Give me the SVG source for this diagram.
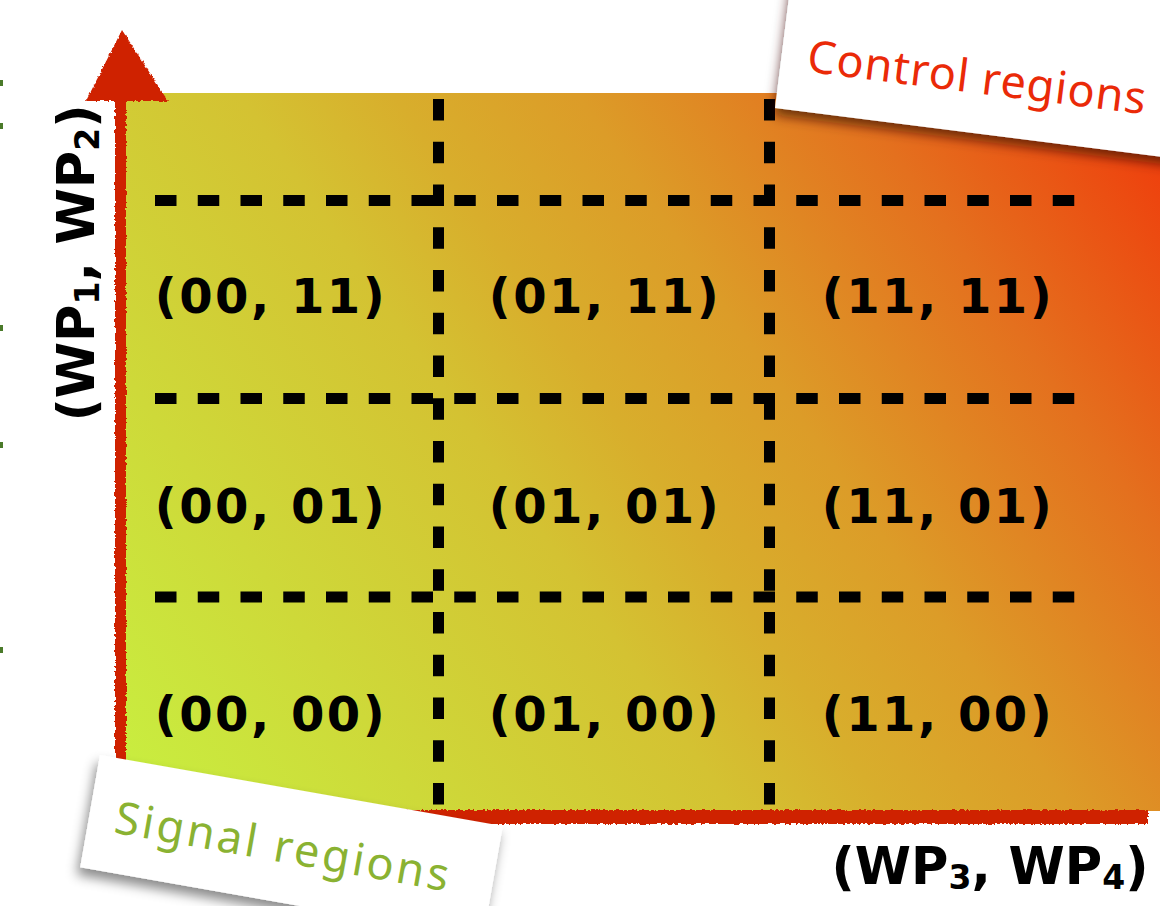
<svg xmlns="http://www.w3.org/2000/svg" width="1160" height="906" viewBox="0 0 1160 906">
  <defs>
    <linearGradient id="bg" gradientUnits="userSpaceOnUse" x1="120" y1="811" x2="1160" y2="93">
      <stop offset="0" stop-color="#c8f040"/>
      <stop offset="0.4" stop-color="#d4c232"/>
      <stop offset="0.5" stop-color="#d8ae2c"/>
      <stop offset="0.62" stop-color="#dc9c28"/>
      <stop offset="0.8" stop-color="#e4701e"/>
      <stop offset="1" stop-color="#f0380a"/>
    </linearGradient>
    <filter id="rough" x="-5%" y="-5%" width="110%" height="110%">
      <feTurbulence type="fractalNoise" baseFrequency="0.35" numOctaves="2" seed="3"/>
      <feDisplacementMap in="SourceGraphic" scale="4" xChannelSelector="R" yChannelSelector="G"/>
    </filter>
    <filter id="shadowC" x="-10%" y="-30%" width="120%" height="160%">
      <feDropShadow dx="0" dy="7" stdDeviation="6" flood-color="#3a1500" flood-opacity="0.7"/>
    </filter>
    <filter id="shadowS" x="-10%" y="-30%" width="120%" height="160%">
      <feDropShadow dx="-2" dy="8" stdDeviation="6" flood-color="#000" flood-opacity="0.45"/>
    </filter>
  </defs>
  <style>
    .cell { font-family: "DejaVu Sans", "Liberation Sans", sans-serif; font-weight: bold; font-size: 48px; letter-spacing: 2.5px; fill: #000; text-anchor: middle; }
    .axis { font-family: "DejaVu Sans", "Liberation Sans", sans-serif; font-weight: bold; font-size: 51px; fill: #000; text-anchor: middle; }
    .dash { stroke: #000; stroke-width: 11; stroke-dasharray: 21.5 21.25; fill: none; }
    .red { fill: #cf2000; }
    .note { font-family: "Noto Sans", "DejaVu Sans", sans-serif; font-size: 45px; letter-spacing: 3px; }
  </style>

  <rect width="1160" height="906" fill="#fff"/>

  <!-- left-edge marks -->
  <g fill="#4a7a2a">
    <rect x="0" y="80" width="3" height="6"/>
    <rect x="0" y="123" width="3" height="6"/>
    <rect x="0" y="325" width="3" height="6"/>
    <rect x="0" y="442" width="3" height="6"/>
    <rect x="0" y="647" width="3" height="6"/>
  </g>

  <!-- plot area -->
  <g id="plot">
    <rect x="121" y="93" width="1039" height="718" fill="url(#bg)"/>
  </g>

  <!-- axes -->
  <g id="axes" filter="url(#rough)">
    <rect class="red" x="115" y="97" width="11" height="716"/>
    <rect class="red" x="118" y="810" width="1030" height="14"/>
    <polygon class="red" points="122,30 168,101 86,101"/>
  </g>

  <!-- grid connectors -->
  <g id="connectors">
    <line class="dash" x1="155" y1="200.5" x2="1075" y2="200.5"/>
    <line class="dash" x1="155" y1="398.5" x2="1075" y2="398.5"/>
    <line class="dash" x1="155" y1="597" x2="1075" y2="597"/>
    <line class="dash" x1="438.5" y1="99" x2="438.5" y2="805"/>
    <line class="dash" x1="769.5" y1="99" x2="769.5" y2="805"/>
  </g>

  <!-- cells -->
  <g id="cell-00-11"><text class="cell" x="271" y="313">(00, 11)</text></g>
  <g id="cell-01-11"><text class="cell" x="605" y="313">(01, 11)</text></g>
  <g id="cell-11-11"><text class="cell" x="938" y="313">(11, 11)</text></g>
  <g id="cell-00-01"><text class="cell" x="271" y="523">(00, 01)</text></g>
  <g id="cell-01-01"><text class="cell" x="605" y="523">(01, 01)</text></g>
  <g id="cell-11-01"><text class="cell" x="938" y="523">(11, 01)</text></g>
  <g id="cell-00-00"><text class="cell" x="271" y="731">(00, 00)</text></g>
  <g id="cell-01-00"><text class="cell" x="605" y="731">(01, 00)</text></g>
  <g id="cell-11-00"><text class="cell" x="938" y="731">(11, 00)</text></g>

  <!-- axis labels -->
  <g id="ylabel">
    <text class="axis" transform="translate(94,263) rotate(-90)">(WP<tspan font-size="33" dy="5">1</tspan><tspan dy="-5">, WP</tspan><tspan font-size="33" dy="5">2</tspan><tspan dy="-5">)</tspan></text>
  </g>
  <g id="xlabel">
    <text class="axis" x="990" y="884">(WP<tspan font-size="33" dy="5">3</tspan><tspan dy="-5">, WP</tspan><tspan font-size="33" dy="5">4</tspan><tspan dy="-5">)</tspan></text>
  </g>

  <!-- control regions note -->
  <g id="control-regions" transform="translate(775,108) rotate(7.2)">
    <rect x="0" y="-220" width="520" height="220" fill="#fff" filter="url(#shadowC)"/>
    <text class="note" x="26" y="-40" fill="#ea2a08" style="letter-spacing:1px">Control regions</text>
  </g>

  <!-- signal regions note -->
  <g id="signal-regions" transform="translate(100,755) rotate(10)">
    <rect x="0" y="0" width="409" height="114" fill="#fff" filter="url(#shadowS)"/>
    <text class="note" x="26" y="74" fill="#8ab232">Signal regions</text>
  </g>
</svg>
